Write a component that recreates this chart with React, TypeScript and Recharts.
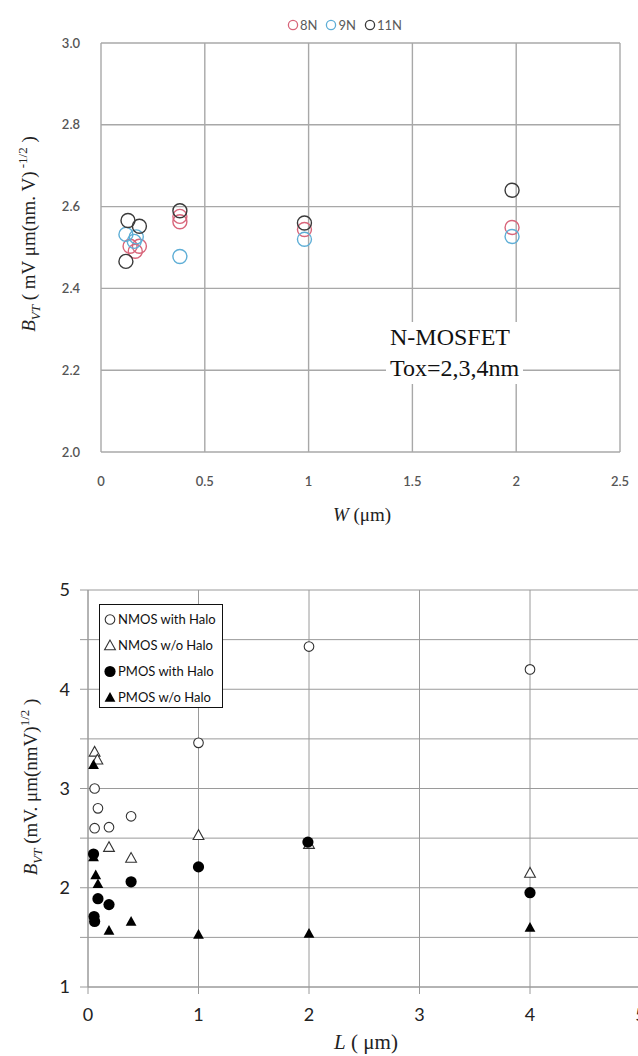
import React from "react";
import {
  CartesianGrid,
  Label,
  Scatter,
  ScatterChart,
  XAxis,
  YAxis,
} from "recharts";

// top chart: B_VT vs W, N-MOSFET
const w8N = [0.14, 0.165, 0.185, 0.38, 0.38, 0.98, 1.98];
const b8N = [2.503, 2.491, 2.503, 2.563, 2.576, 2.544, 2.549];
const w9N = [0.12, 0.16, 0.17, 0.38, 0.98, 1.98];
const b9N = [2.532, 2.515, 2.526, 2.478, 2.52, 2.527];
const w11N = [0.13, 0.185, 0.12, 0.38, 0.98, 1.98];
const b11N = [2.566, 2.552, 2.466, 2.59, 2.56, 2.64];
const wTicks = [0, 0.5, 1, 1.5, 2, 2.5];
const bTicksTop = [2.0, 2.2, 2.4, 2.6, 2.8, 3.0];

// bottom chart: B_VT vs L
const lNmosHalo = [1, 0.06, 0.09, 0.06, 0.19, 0.39, 2, 4];
const bNmosHalo = [3.46, 3.0, 2.8, 2.6, 2.61, 2.72, 4.43, 4.2];
const lNmosNoHalo = [0.06, 0.085, 0.19, 0.39, 1, 2, 4];
const bNmosNoHalo = [3.37, 3.29, 2.41, 2.3, 2.53, 2.44, 2.15];
const lPmosHalo = [0.05, 0.09, 0.19, 0.055, 0.06, 0.39, 1, 1.99, 4];
const bPmosHalo = [2.34, 1.89, 1.83, 1.71, 1.66, 2.06, 2.21, 2.46, 1.95];
const lPmosNoHalo = [0.05, 0.05, 0.07, 0.09, 0.19, 0.39, 1, 2, 4];
const bPmosNoHalo = [3.24, 2.31, 2.13, 2.04, 1.57, 1.66, 1.53, 1.54, 1.6];
const lTicks = [0, 1, 2, 3, 4, 5];
const bTicksBottom = [1, 1.5, 2, 2.5, 3, 3.5, 4, 4.5, 5];

const topSeries = [
  { name: "8N", color: "#d8657a", xs: w8N, ys: b8N },
  { name: "9N", color: "#5eaed6", xs: w9N, ys: b9N },
  { name: "11N", color: "#3a3a3a", xs: w11N, ys: b11N },
];

const bottomSeries = [
  { name: "NMOS with Halo", kind: "openCircle", xs: lNmosHalo, ys: bNmosHalo },
  { name: "NMOS w/o Halo", kind: "openTriangle", xs: lNmosNoHalo, ys: bNmosNoHalo },
  { name: "PMOS with Halo", kind: "dot", xs: lPmosHalo, ys: bPmosHalo },
  { name: "PMOS w/o Halo", kind: "triangle", xs: lPmosNoHalo, ys: bPmosNoHalo },
];

const zip = (xs: number[], ys: number[]) => xs.map((x, i) => ({ x, y: ys[i] }));

const SANS = "Lato, 'Open Sans', sans-serif";
const SERIF = "'Liberation Serif', 'DejaVu Serif', serif";
const GRID_TOP = "#a8a8a8";
const GRID_BOTTOM = "#9a9a9a";

function ring(color: string, r: number) {
  return (p: any) => (
    <circle cx={p.cx} cy={p.cy} r={r} fill="none" stroke={color} strokeWidth={1.4} />
  );
}

function marker(kind: string, cx: number, cy: number) {
  if (kind === "openCircle")
    return <circle cx={cx} cy={cy} r={4.8} fill="#fff" stroke="#333" strokeWidth={1.1} />;
  if (kind === "dot") return <circle cx={cx} cy={cy} r={5.6} fill="#000" />;
  const s = 5.4;
  const pts = `${cx},${cy - s} ${cx - s},${cy + s * 0.8} ${cx + s},${cy + s * 0.8}`;
  if (kind === "openTriangle")
    return <polygon points={pts} fill="#fff" stroke="#333" strokeWidth={1.1} />;
  return <polygon points={pts} fill="#000" />;
}

function TopLegend() {
  return (
    <div
      style={{
        position: "absolute",
        left: 287,
        top: 17,
        display: "flex",
        gap: 8,
        fontFamily: SANS,
        fontSize: 13,
        color: "#5a5a5a",
      }}
    >
      {topSeries.map((s) => (
        <span key={s.name} style={{ display: "flex", alignItems: "center" }}>
          <svg width={12} height={12} style={{ marginRight: 1 }}>
            <circle cx={6} cy={6} r={4.6} fill="none" stroke={s.color} strokeWidth={1.3} />
          </svg>
          {s.name}
        </span>
      ))}
    </div>
  );
}

function BottomLegend() {
  return (
    <div
      style={{
        position: "absolute",
        left: 99,
        top: 64,
        width: 124,
        height: 104,
        border: "1.5px solid #111",
        background: "#fff",
        boxSizing: "border-box",
        padding: "1px 0 0 3px",
        fontFamily: SANS,
        fontSize: 13,
        color: "#111",
        whiteSpace: "nowrap",
      }}
    >
      {bottomSeries.map((s) => (
        <div key={s.name} style={{ display: "flex", alignItems: "center", height: 26 }}>
          <svg width={14} height={14} style={{ marginRight: 1 }}>
            {marker(s.kind, 7, 7.5)}
          </svg>
          {s.name}
        </div>
      ))}
    </div>
  );
}

export default function App() {
  return (
    <div
      style={{
        position: "absolute",
        left: 0,
        top: 0,
        width: 638,
        height: 1056,
        overflow: "hidden",
        background: "#fff",
      }}
    >
      <div style={{ position: "absolute", left: 0, top: 0 }}>
        <ScatterChart width={638} height={540} margin={{ top: 43, right: 18, bottom: 58, left: 0 }}>
          <CartesianGrid stroke={GRID_TOP} strokeWidth={1.4} />
          <XAxis
            type="number"
            dataKey="x"
            domain={[0, 2.5]}
            ticks={wTicks}
            axisLine={false}
            tickLine={false}
            tickSize={0}
            tickMargin={25}
            height={30}
            tick={{ fontFamily: SANS, fontSize: 13, fill: "#555", fontWeight: 600 }}
          >
            <Label
              content={() => (
                <text x={362} y={521} textAnchor="middle" fontFamily={SERIF} fontSize={19} fill="#222">
                  <tspan fontStyle="italic">W</tspan>
                  <tspan> (μm)</tspan>
                </text>
              )}
            />
          </XAxis>
          <YAxis
            type="number"
            dataKey="y"
            domain={[2, 3]}
            ticks={bTicksTop}
            tickFormatter={(v) => Number(v).toFixed(1)}
            axisLine={false}
            tickLine={false}
            tickSize={0}
            tickMargin={21}
            width={101}
            tick={{ fontFamily: SANS, fontSize: 13, fill: "#555", fontWeight: 600 }}
          >
            <Label
              content={() => (
                <text
                  x={0}
                  y={0}
                  transform="translate(35,234) rotate(-90)"
                  textAnchor="middle"
                  fontFamily={SERIF}
                  fontSize={19}
                  fill="#222"
                >
                  <tspan fontStyle="italic">B</tspan>
                  <tspan fontStyle="italic" fontSize={13} dy={5}>VT</tspan>
                  <tspan dy={-5}> ( mV μm(nm. V)</tspan>
                  <tspan fontSize={13} dy={-8}> -1/2</tspan>
                  <tspan dy={8}> )</tspan>
                </text>
              )}
            />
          </YAxis>
          {topSeries.map((s) => (
            <Scatter
              key={s.name}
              name={s.name}
              data={zip(s.xs, s.ys)}
              shape={ring(s.color, 7)}
              isAnimationActive={false}
            />
          ))}
        </ScatterChart>
        <TopLegend />
        <div
          style={{
            position: "absolute",
            left: 386,
            top: 322,
            background: "#fff",
            fontFamily: SERIF,
            fontSize: 24,
            lineHeight: "31px",
            color: "#111",
            padding: "0 4px",
          }}
        >
          <div>N-MOSFET</div>
          <div>Tox=2,3,4nm</div>
        </div>
      </div>

      <div style={{ position: "absolute", left: 0, top: 540 }}>
        <ScatterChart width={680} height={516} margin={{ top: 50, right: 39.5, bottom: 39, left: 0 }}>
          <CartesianGrid
            stroke={GRID_BOTTOM}
            horizontalValues={bTicksBottom}
            verticalValues={lTicks}
          />
          <XAxis
            type="number"
            dataKey="x"
            domain={[0, 5]}
            ticks={lTicks}
            stroke={GRID_BOTTOM}
            tickSize={7}
            tickMargin={14}
            height={30}
            tick={{ fontFamily: SANS, fontSize: 18, fill: "#222" }}
          >
            <Label
              content={() => (
                <text x={366} y={509} textAnchor="middle" fontFamily={SERIF} fontSize={21} fill="#222">
                  <tspan fontStyle="italic">L</tspan>
                  <tspan> ( μm)</tspan>
                </text>
              )}
            />
          </XAxis>
          <YAxis
            type="number"
            dataKey="y"
            domain={[1, 5]}
            ticks={bTicksBottom}
            tickFormatter={(v) => (Number(v) % 1 === 0 ? String(v) : "")}
            stroke={GRID_BOTTOM}
            tickSize={8}
            tickMargin={10}
            width={88}
            tick={{ fontFamily: SANS, fontSize: 18, fill: "#222" }}
          >
            <Label
              content={() => (
                <text
                  x={0}
                  y={0}
                  transform="translate(37,247) rotate(-90)"
                  textAnchor="middle"
                  fontFamily={SERIF}
                  fontSize={19}
                  fill="#222"
                >
                  <tspan fontStyle="italic">B</tspan>
                  <tspan fontStyle="italic" fontSize={13} dy={5}>VT</tspan>
                  <tspan dy={-5}> (mV. μm(nmV)</tspan>
                  <tspan fontSize={13} dy={-8}>1/2</tspan>
                  <tspan dy={8}> )</tspan>
                </text>
              )}
            />
          </YAxis>
          {bottomSeries.map((s) => (
            <Scatter
              key={s.name}
              name={s.name}
              data={zip(s.xs, s.ys)}
              shape={(p: any) => marker(s.kind, p.cx, p.cy)}
              isAnimationActive={false}
            />
          ))}
        </ScatterChart>
        <BottomLegend />
      </div>
    </div>
  );
}
